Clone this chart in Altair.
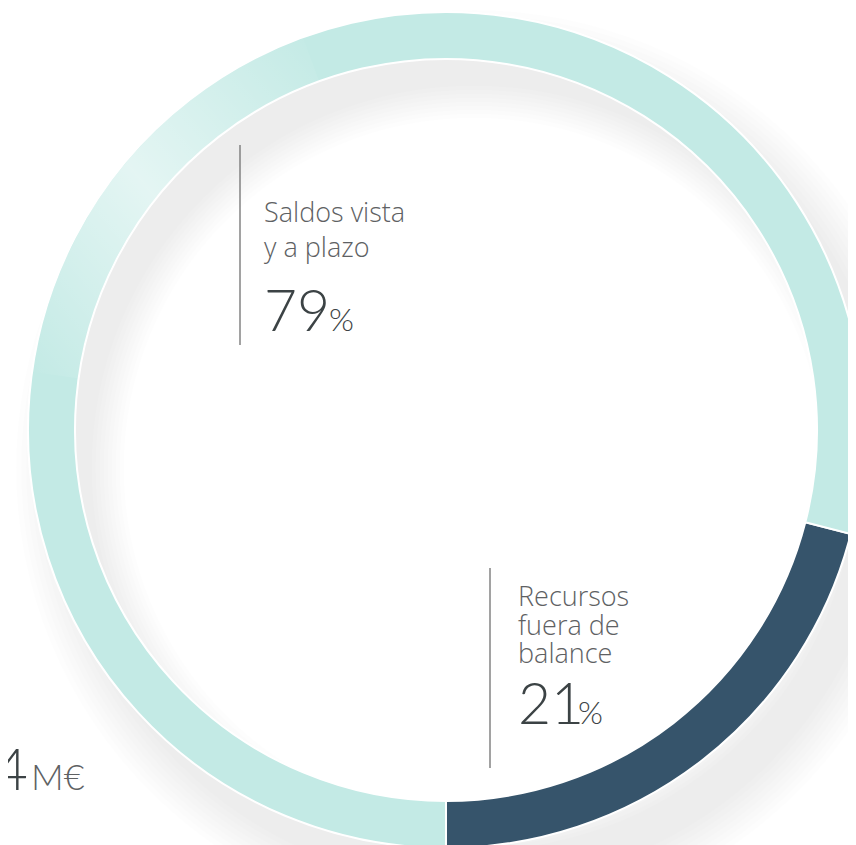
import math
import altair as alt
import pandas as pd

# ---- data ----
categories = ["Recursos fuera de balance", "Saldos vista y a plazo"]
shares = [21, 79]
colors = ["#36546b", "#c3eae5"]
stack_order = [0, 1]

label_a = ["Saldos vista", "y a plazo"]
pct_a = "79"
label_b = ["Recursos", "fuera de", "balance"]
pct_b = "21"
pct_sign = "%"
total_digit = "4"
total_unit = "M€"
cut_text = "s"

# ---- layout (chart coords = page coords - 8) ----
W, H = 840, 837
CX, CY = 438, 422
R_OUT, R_IN = 418, 371
start = math.pi - shares[0] / 100 * 2 * math.pi

LABEL_FONT = "Open Sans"
NUM_FONT = "Lato"
LABEL_COLOR = "#5e6163"
PCT_COLOR = "#3c4345"

df = pd.DataFrame({"category": categories, "share": shares, "ord": stack_order})
one = pd.DataFrame({"k": [0]})

layers = []

# soft drop shadow (decoration)
SX, SY = CX + 28, CY + 38
for i in range(9):
    layers.append(
        alt.Chart(one).mark_arc(
            color="#000000", opacity=0.008,
            theta=0, theta2=2 * math.pi,
            radius=458 - i * 5, radius2=350 + i * 4,
        ).encode(x=alt.value(SX), y=alt.value(SY))
    )

ring = alt.Chart(df).mark_arc(
    radius=R_OUT, radius2=R_IN, stroke="white", strokeWidth=2
).encode(
    x=alt.value(CX),
    y=alt.value(CY),
    theta=alt.Theta("share:Q", stack=True,
                    scale=alt.Scale(domain=[0, 100], range=[start, start + 2 * math.pi])),
    color=alt.Color("category:N", scale=alt.Scale(domain=categories, range=colors), legend=None),
    order=alt.Order("ord:Q"),
)
layers.append(ring)

# highlight on the upper-left of the ring
grad = alt.Gradient(
    gradient="linear",
    stops=[
        alt.GradientStop(color="rgba(255,255,255,0)", offset=0),
        alt.GradientStop(color="rgba(255,255,255,0.55)", offset=0.48),
        alt.GradientStop(color="rgba(255,255,255,0)", offset=1),
    ],
    x1=0, y1=1, x2=1, y2=0,
)
layers.append(
    alt.Chart(one).mark_arc(
        fill=grad, theta=278 * math.pi / 180, theta2=340 * math.pi / 180,
        radius=R_OUT - 1, radius2=R_IN + 1,
    ).encode(x=alt.value(CX), y=alt.value(CY))
)

# separator rules
layers.append(alt.Chart(one).mark_rule(color="#707070", strokeWidth=1.3).encode(
    x=alt.value(232), y=alt.value(137), y2=alt.value(337)))
layers.append(alt.Chart(one).mark_rule(color="#707070", strokeWidth=1.3).encode(
    x=alt.value(482), y=alt.value(560), y2=alt.value(760)))

def txt(text, x, y, size, color, font, align="left", line_height=None, weight=300):
    kw = dict(text=text, align=align, baseline="alphabetic", font=font,
              fontSize=size, color=color, fontWeight=weight)
    if line_height:
        kw["lineHeight"] = line_height
    return alt.Chart(one).mark_text(**kw).encode(x=alt.value(x), y=alt.value(y))

layers.append(txt(label_a, 256, 214, 27, LABEL_COLOR, LABEL_FONT, line_height=35))
layers.append(txt(pct_a, 256, 323, 57, PCT_COLOR, NUM_FONT))
layers.append(txt(pct_sign, 321, 323, 32, PCT_COLOR, NUM_FONT))
layers.append(txt(label_b, 510, 598, 27, LABEL_COLOR, LABEL_FONT, line_height=28.5))
layers.append(txt(pct_b, 510, 716, 57, PCT_COLOR, NUM_FONT))
layers.append(txt(pct_sign, 570, 716, 32, PCT_COLOR, NUM_FONT))
layers.append(txt(total_digit, 20, 782, 58, PCT_COLOR, NUM_FONT, align="right"))
layers.append(txt(total_unit, 23, 782, 36, LABEL_COLOR, NUM_FONT))
layers.append(txt(cut_text, 0, 129, 40, LABEL_COLOR, LABEL_FONT, align="right"))

chart = alt.layer(*layers).properties(
    width=W, height=H, autosize=alt.AutoSizeParams(type="none"), padding=0,
    background="white",
).configure_view(stroke=None)

chart.save("out.html", embed_options={"renderer": "svg", "actions": False})
